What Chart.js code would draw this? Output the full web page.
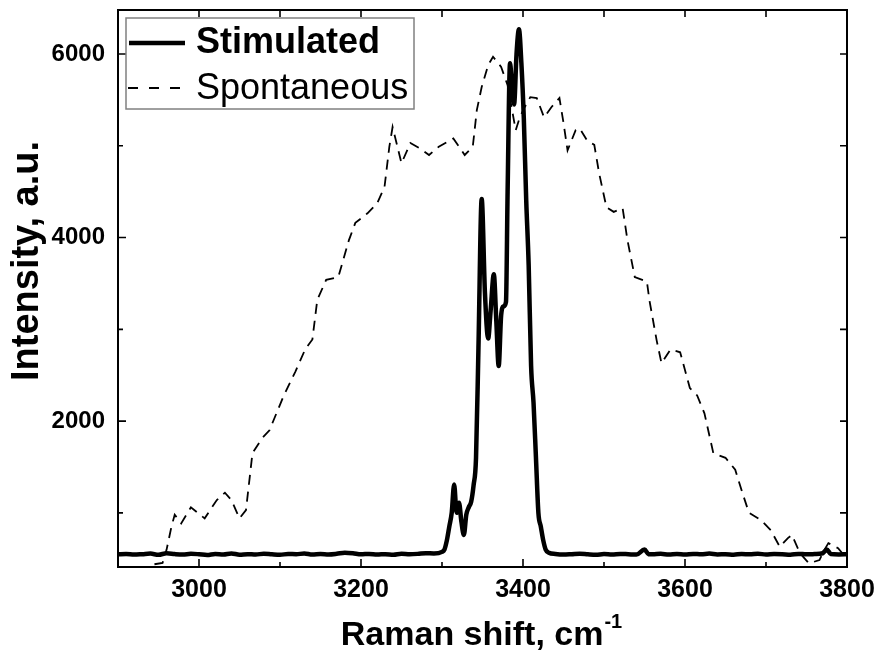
<!DOCTYPE html>
<html><head><meta charset="utf-8">
<script src="https://cdn.jsdelivr.net/npm/chart.js@4.4.1/dist/chart.umd.min.js"></script>
<style>html,body{margin:0;padding:0;background:#fff}#wrap{width:880px;height:657px}</style>
</head><body><div id="wrap"><canvas id="c" width="880" height="657"></canvas></div>
<script>
// ---- Data ----
const stimX = [2900,2910,2920,2930,2940,2950,2960,2970,2980,2990,3000,3010,3020,3030,3040,3050,3060,3070,3080,3090,3100,3110,3120,3130,3140,3150,3160,3170,3180,3190,3200,3210,3220,3230,3240,3250,3260,3270,3280,3290,3300,
 3303,3306,3309,3312,3315,3318,3321,3324,3327,3330,3333,3336,3339,3342,3345,3349,3353,3357,3360,3364,3367,3370,3373,3376,3379,3381,3384,3386,3389,3392,3395,3398,3401,3404,3407,3410,3413,3416,3419,3422,3425,3428,3432,
 3440,3450,3460,3470,3480,3490,3500,3510,3520,3530,3540,3550,3555,3560,3570,3580,3590,3600,3610,3620,3630,3640,3650,3660,3670,3680,3690,3700,3710,3720,3730,3740,3750,3760,3770,3775,3780,3790,3800];
const stimY = [548,552,545,550,556,543,560,551,546,554,549,541,553,547,558,544,550,546,555,548,543,552,549,557,545,551,547,554,566,560,548,553,546,550,544,555,549,553,561,558,575,
 600,700,850,1000,1310,1000,1110,900,760,980,1060,1120,1300,1600,2800,4420,3400,2900,3200,3600,3100,2600,3150,3250,3300,4500,5900,5700,5450,6000,6270,5900,5300,4400,3700,2600,2200,1600,1000,850,700,600,565,
 552,546,550,555,548,543,551,547,553,549,545,600,550,548,554,546,551,545,553,549,556,547,550,544,552,548,555,546,551,549,544,553,548,551,560,600,552,547,550];

const spontX = [2945,2955,2960,2966,2970,2978,2990,3007,3022,3032,3040,3050,3058,3066,3078,3087,3104,3119,3131,3140,3146,3157,3172,3185,3193,3208,3220,3229,3235,3239,3245,3250,3261,3273,3284,3296,3314,3328,3338,3343,3349,3357,3363,3373,3381,3391,3396,3402,3409,3417,3426,3435,3445,3450,3455,3465,3470,3479,3488,3494,3503,3512,3523,3529,3538,3553,3556,3565,3571,3582,3594,3606,3615,3624,3635,3650,3662,3671,3679,3694,3706,3717,3727,3732,3742,3753,3766,3772,3777,3789,3798];
const spontY = [440,455,600,850,980,885,1060,940,1140,1220,1140,940,1030,1650,1815,1900,2265,2540,2780,2890,3320,3540,3570,3970,4160,4265,4375,4550,4990,5205,4990,4810,5030,4970,4900,4990,5080,4900,4990,5390,5640,5880,5970,5860,5660,5170,5310,5420,5530,5520,5310,5420,5520,5250,4950,5170,5190,5060,5010,4700,4330,4280,4320,3970,3570,3520,3320,2880,2630,2780,2750,2360,2280,2085,1650,1600,1470,1215,1000,920,810,630,725,760,560,450,485,595,670,615,520];

const seriesNames = ['Stimulated','Spontaneous'];
const xTitle = 'Raman shift, cm';
const xTitleSup = '-1';
const yTitle = 'Intensity, a.u.';
const xMin = 2900, xMax = 3800, xStep = 100;
const yMin = 410, yMax = 6480;
const yTickValues = [1000,2000,3000,4000,5000,6000];

const FONT = '"Liberation Sans", Arial, sans-serif';

const framePlugin = {
  id: 'frame',
  afterDraw(chart) {
    const {ctx, chartArea: a, scales: {x, y}} = chart;
    ctx.save();
    ctx.strokeStyle = '#000';
    ctx.lineWidth = 1.6;
    ctx.beginPath();
    x.ticks.forEach(t => {
      const v = t.value;
      if (v <= xMin || v >= xMax) return;
      const px = x.getPixelForValue(v);
      const lb = (v % 200 === 0) ? 8 : 5;
      ctx.moveTo(px, a.bottom); ctx.lineTo(px, a.bottom - lb);
      ctx.moveTo(px, a.top); ctx.lineTo(px, a.top + 7);
    });
    y.ticks.forEach(t => {
      const v = t.value;
      const py = y.getPixelForValue(v);
      const ll = (v % 2000 === 0) ? 8 : 5;
      ctx.moveTo(a.left, py); ctx.lineTo(a.left + ll, py);
      ctx.moveTo(a.right, py); ctx.lineTo(a.right - 7, py);
    });
    ctx.stroke();
    ctx.lineWidth = 2;
    ctx.strokeRect(a.left, a.top, a.right - a.left, a.bottom - a.top);

    // Legend
    const lx = 126, ly = 18, lw = 288, lh = 91;
    ctx.fillStyle = '#fff';
    ctx.fillRect(lx, ly, lw, lh);
    ctx.strokeStyle = '#808080';
    ctx.lineWidth = 1.5;
    ctx.strokeRect(lx, ly, lw, lh);
    ctx.strokeStyle = '#000';
    ctx.lineWidth = 4.5;
    ctx.beginPath(); ctx.moveTo(129, 43); ctx.lineTo(185, 43); ctx.stroke();
    ctx.lineWidth = 1.8;
    ctx.setLineDash([10, 11]);
    ctx.beginPath(); ctx.moveTo(128, 88); ctx.lineTo(185, 88); ctx.stroke();
    ctx.setLineDash([]);
    ctx.fillStyle = '#000';
    ctx.textAlign = 'left';
    ctx.textBaseline = 'alphabetic';
    ctx.font = 'bold 36px ' + FONT;
    ctx.fillText(seriesNames[0], 196, 53);
    ctx.font = '36px ' + FONT;
    ctx.fillText(seriesNames[1], 196, 99);

    // X title with superscript
    ctx.font = 'bold 34px ' + FONT;
    const w1 = ctx.measureText(xTitle).width;
    ctx.font = 'bold 20px ' + FONT;
    const w2 = ctx.measureText(xTitleSup).width;
    const sx = 481 - (w1 + w2) / 2;
    ctx.font = 'bold 34px ' + FONT;
    ctx.fillText(xTitle, sx, 645);
    ctx.font = 'bold 20px ' + FONT;
    ctx.fillText(xTitleSup, sx + w1 + 1, 628);

    // Y title
    ctx.translate(28, 261);
    ctx.rotate(-Math.PI / 2);
    ctx.textAlign = 'center';
    ctx.textBaseline = 'middle';
    ctx.font = 'bold 38px ' + FONT;
    ctx.fillText(yTitle, 0, 0);
    ctx.restore();
  }
};

new Chart(document.getElementById('c'), {
  type: 'line',
  data: {
    datasets: [
      {
        label: seriesNames[0],
        data: stimX.map((v, i) => ({x: v, y: stimY[i]})),
        borderColor: '#000', borderWidth: 4.5, pointRadius: 0,
        cubicInterpolationMode: 'monotone', fill: false, clip: 0
      },
      {
        label: seriesNames[1],
        data: spontX.map((v, i) => ({x: v, y: spontY[i]})),
        borderColor: '#000', borderWidth: 1.8, borderDash: [10, 7], pointRadius: 0,
        tension: 0, fill: false, clip: 0
      }
    ]
  },
  options: {
    responsive: false, animation: false, devicePixelRatio: 1,
    layout: {padding: {top: 10, right: 33, left: 0, bottom: 0}},
    plugins: {legend: {display: false}, tooltip: {enabled: false}},
    scales: {
      x: {
        type: 'linear', min: xMin, max: xMax,
        ticks: {stepSize: xStep, autoSkip: false, maxRotation: 0, padding: 8, color: '#000',
          font: {family: FONT, size: 25, weight: 'bold'},
          callback: v => (v % 200 === 0 ? String(v) : '')},
        grid: {display: true, drawOnChartArea: false, drawTicks: false},
        border: {display: false},
        afterFit: s => { s.height = 90; s.paddingLeft = 0; s.paddingRight = 0; s.paddingTop = 0; s.paddingBottom = 0; }
      },
      y: {
        type: 'linear', min: yMin, max: yMax,
        afterBuildTicks: s => { s.ticks = yTickValues.map(v => ({value: v})); },
        ticks: {autoSkip: false, padding: 13, color: '#000',
          font: {family: FONT, size: 24, weight: 'bold'},
          callback: v => (v % 2000 === 0 ? String(v) : '')},
        grid: {display: true, drawOnChartArea: false, drawTicks: false},
        border: {display: false},
        afterFit: s => { s.width = 118; s.paddingLeft = 0; s.paddingRight = 0; s.paddingTop = 0; s.paddingBottom = 0; }
      }
    }
  },
  plugins: [framePlugin]
});
</script>
</body></html>
